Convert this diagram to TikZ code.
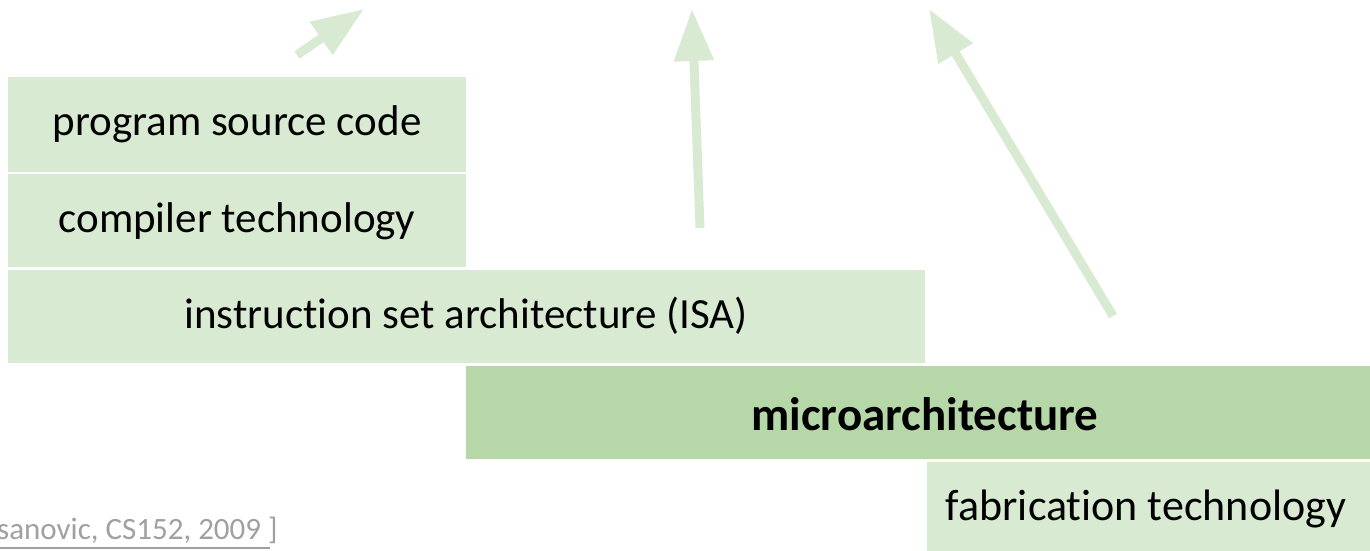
\documentclass[tikz,border=0pt]{standalone}
\usepackage{fontspec}
\setmainfont{Carlito}[Ligatures={NoCommon,NoContextual,NoRequired}]
\usetikzlibrary{arrows.meta}
\definecolor{layerlight}{RGB}{217,234,211}
\definecolor{layerdark}{RGB}{182,215,168}
\definecolor{citegray}{RGB}{160,160,160}
\tikzset{
  layer/.style={fill=layerlight, draw=none, inner sep=0pt, anchor=north west},
  darklayer/.style={layer, fill=layerdark},
  lbl/.style={inner sep=0pt, anchor=base, font=\fontsize{43}{50}\selectfont},
  boldlbl/.style={lbl, font=\fontsize{47}{54}\selectfont\bfseries},
  cite/.style={inner sep=0pt, anchor=base west, text=citegray, font=\fontsize{31}{36}\selectfont},
  influence/.style={draw=layerlight, line width=9pt, -{Triangle[length=52pt,width=38pt]}}
}
\begin{document}
\begin{tikzpicture}[x=1pt,y=-1pt]
\useasboundingbox (0,0) rectangle (1370,551);
\clip (0,0) rectangle (1370,551);

% stacked abstraction layers
\node[layer, minimum width=458pt, minimum height=95pt] (src) at (8,77) {};
\node[layer, minimum width=458pt, minimum height=93pt] (comp) at (8,174) {};
\node[layer, minimum width=917pt, minimum height=93pt] (isa) at (8,270) {};
\node[darklayer, minimum width=914pt, minimum height=93pt] (uarch) at (466,366) {};
\node[layer, minimum width=443pt, minimum height=100pt] (fab) at (927,462) {};

% layer labels
\node[lbl] (srcT) at (237,135) {program source code};
\node[lbl] (compT) at (237,232) {compiler technology};
\node[lbl] (isaT) at (466,328) {instruction set architecture (ISA)};
\node[boldlbl] (uarchT) at (925,430) {microarchitecture};
\node[lbl, font=\fontsize{44}{50}\selectfont] (fabT) at (1146,520) {fabrication technology};

% citation
\node[cite] (citeT) at (-3,539) {sanovic, CS152, 2009 ]};
\coordinate (ulEnd) at (270,548);
\draw[citegray, line width=1.5pt] (citeT.west |- ulEnd) -- (ulEnd);

% upward influence arrows
\coordinate (a1s) at (297,55);
\coordinate (a1e) at (364,9);
\coordinate (a2s) at (700,228);
\coordinate (a2e) at (692,9);
\coordinate (a3s) at (1113,316);
\coordinate (a3e) at (929,9);
\draw[influence] (a1s) -- (a1e);
\draw[influence] (a2s) -- (a2e);
\draw[influence] (a3s) -- (a3e);
\end{tikzpicture}
\end{document}
